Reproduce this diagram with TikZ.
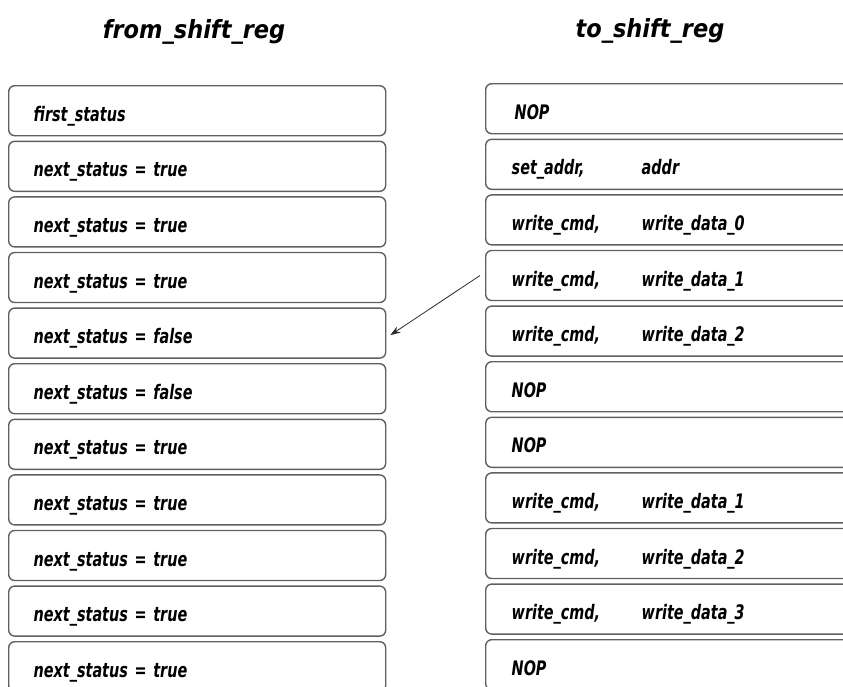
\documentclass[tikz,border=0pt]{standalone}
\usepackage{fontspec}
\usepackage{tikz}
\usetikzlibrary{
    positioning,
    arrows.meta
}
\newfontfamily\regfont{DejaVu Sans Condensed}[FakeStretch=0.8]
\newfontfamily\titlefont{DejaVu Sans Condensed}
\definecolor{boxGray}{RGB}{95, 95, 95}
\definecolor{arrowGray}{RGB}{40, 40, 40}
\tikzset{
    regbox/.style={draw=boxGray, line width=1.4pt, rounded corners=6pt,
        minimum height=50pt, align=left, text height=21pt, text depth=0pt,
        font=\regfont\bfseries\itshape\fontsize{20}{24}\selectfont},
    fromreg/.style={regbox, text width=327pt, inner xsep=25pt},
    toreg/.style={regbox, text width=350pt, inner xsep=26pt},
    title/.style={font=\titlefont\bfseries\itshape\fontsize{25}{30}\selectfont}
}
\newcommand{\cmdpair}[2]{\makebox[130pt][l]{#1}#2}

\begin{document}
\begin{tikzpicture}[x=1pt, y=1pt, >=Stealth]
    \useasboundingbox (0,0) rectangle (843,-686);

    % titles
    \node[title] (fromTitle) at (194,-32) {from\_shift\_reg};
    \node[title] (toTitle) at (650,-31) {to\_shift\_reg};

    % from_shift_reg column
    \node[fromreg, anchor=north west] (L1) at (8,-85) {first\_status};
    \node[fromreg, below=4.2pt of L1] (L2) {next\_status = true};
    \node[fromreg, below=4.2pt of L2] (L3) {next\_status = true};
    \node[fromreg, below=4.2pt of L3] (L4) {next\_status = true};
    \node[fromreg, below=4.2pt of L4] (L5) {next\_status = false};
    \node[fromreg, below=4.2pt of L5] (L6) {next\_status = false};
    \node[fromreg, below=4.2pt of L6] (L7) {next\_status = true};
    \node[fromreg, below=4.2pt of L7] (L8) {next\_status = true};
    \node[fromreg, below=4.2pt of L8] (L9) {next\_status = true};
    \node[fromreg, below=4.2pt of L9] (L10) {next\_status = true};
    \node[fromreg, below=4.2pt of L10] (L11) {next\_status = true};

    % to_shift_reg column (runs off the right edge)
    \node[toreg, anchor=north west] (R1) at (485,-83) {\hspace{3pt}NOP};
    \node[toreg, below=4.2pt of R1] (R2) {\cmdpair{set\_addr,}{addr}};
    \node[toreg, below=4.2pt of R2] (R3) {\cmdpair{write\_cmd,}{write\_data\_0}};
    \node[toreg, below=4.2pt of R3] (R4) {\cmdpair{write\_cmd,}{write\_data\_1}};
    \node[toreg, below=4.2pt of R4] (R5) {\cmdpair{write\_cmd,}{write\_data\_2}};
    \node[toreg, below=4.2pt of R5] (R6) {NOP};
    \node[toreg, below=4.2pt of R6] (R7) {NOP};
    \node[toreg, below=4.2pt of R7] (R8) {\cmdpair{write\_cmd,}{write\_data\_1}};
    \node[toreg, below=4.2pt of R8] (R9) {\cmdpair{write\_cmd,}{write\_data\_2}};
    \node[toreg, below=4.2pt of R9] (R10) {\cmdpair{write\_cmd,}{write\_data\_3}};
    \node[toreg, below=4.2pt of R10] (R11) {NOP};

    % status of write_data_1 comes back two slots later
    \draw[-{Stealth[length=10pt, width=7pt]}, thick, arrowGray] ([xshift=-5pt]R4.west) -- ([xshift=4pt, yshift=-2pt]L5.east);
\end{tikzpicture}
\end{document}
